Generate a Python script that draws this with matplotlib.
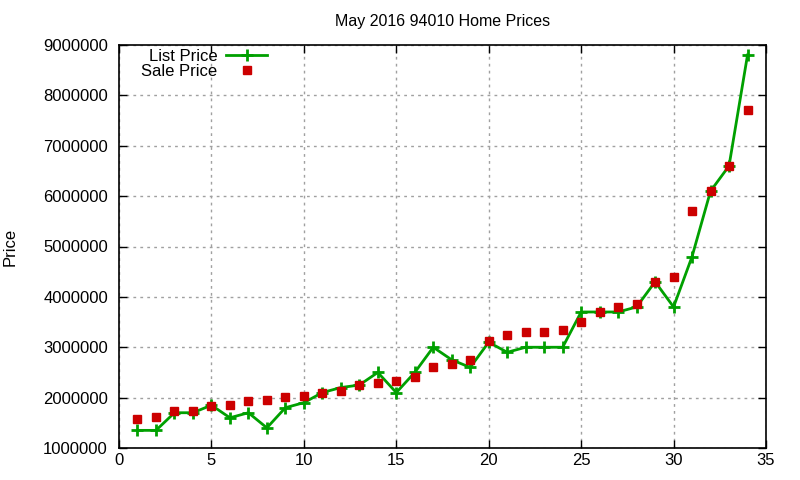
import matplotlib
matplotlib.use("Agg")
import matplotlib.pyplot as plt
from matplotlib.ticker import MultipleLocator

plt.rcParams['font.family'] = ['Liberation Sans', 'DejaVu Sans']

idx = list(range(1, 35))
list_price = [1350000, 1350000, 1700000, 1700000, 1850000, 1600000, 1700000, 1400000,
              1800000, 1900000, 2100000, 2200000, 2250000, 2500000, 2100000, 2500000,
              3000000, 2750000, 2600000, 3100000, 2900000, 3000000, 3000000, 3000000,
              3700000, 3700000, 3700000, 3800000, 4300000, 3800000, 4800000, 6100000,
              6600000, 8800000]
sale_price = [1580000, 1610000, 1725000, 1725000, 1830000, 1850000, 1930000, 1950000,
              2010000, 2030000, 2090000, 2130000, 2250000, 2300000, 2330000, 2400000,
              2600000, 2660000, 2740000, 3120000, 3250000, 3300000, 3300000, 3350000,
              3500000, 3700000, 3800000, 3850000, 4300000, 4400000, 5700000, 6100000,
              6600000, 7700000]

fig = plt.figure(figsize=(8, 4.8), dpi=100)
ax = fig.add_axes([119/800, 1-448/480, (766-119)/800, (448-45)/480])

ax.plot(idx, list_price, color='#00a000', lw=2, marker='+', ms=8, mew=2,
        label='List Price', zorder=3)
ax.plot(idx, sale_price, ls='none', color='#cc0000', marker='s', ms=6,
        label='Sale Price', zorder=4)

ax.set_xlim(0, 35)
ax.set_ylim(1000000, 9000000)
ax.xaxis.set_major_locator(MultipleLocator(5))
ax.yaxis.set_major_locator(MultipleLocator(1000000))
ax.ticklabel_format(axis='y', style='plain', useOffset=False)
ax.tick_params(direction='in', top=True, right=True, labelsize=12, length=6, width=1)
ax.tick_params(axis='y', pad=8)
ax.grid(True, color='#a0a0a0', ls=(0, (2, 3)), lw=1)
for s in ax.spines.values():
    s.set_linewidth(1.2)

ax.set_title('May 2016 94010 Home Prices', fontsize=11.5, pad=14)
ax.set_ylabel('Price', fontsize=12, labelpad=18)

leg = ax.legend(loc='upper left', bbox_to_anchor=(0.019, 1.015), frameon=False,
                markerfirst=False, fontsize=12, handlelength=2.5,
                handletextpad=0.5, borderaxespad=0.2, labelspacing=0.0)
for t in leg.get_texts():
    t.set_ha('right')

fig.savefig('out.png', dpi=100)
